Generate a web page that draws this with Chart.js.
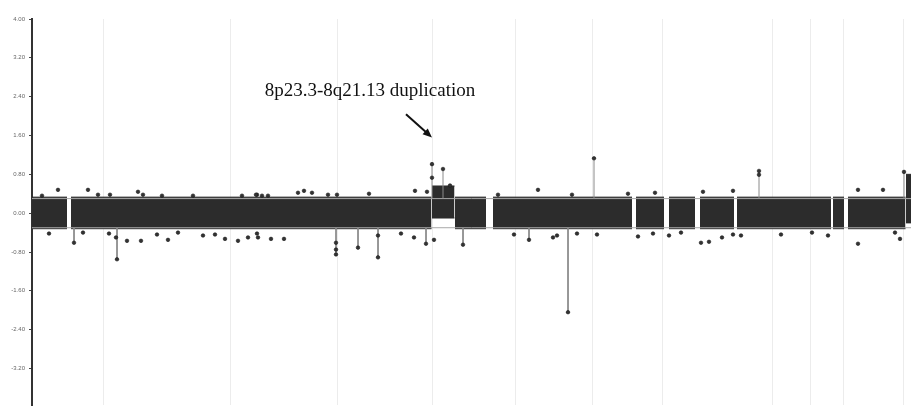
<!DOCTYPE html>
<html lang="en">
<head>
<meta charset="UTF-8">
<title>CNV plot</title>
<script src="https://cdn.jsdelivr.net/npm/chart.js"></script>
<style>
    body { margin: 0; background: white; }
    #wrap { width: 911px; height: 413px; }
</style>
</head>
<body>
<div id="wrap"><canvas id="cnv" width="911" height="413"></canvas></div>
<script>
    // y axis ticks (log2 ratio)
    const yTicks = [4, 3.2, 2.4, 1.6, 0.8, 0, -0.8, -1.6, -2.4, -3.2];
    // faint chromosome grid lines (genome index)
    const gridX = [71, 198, 305, 400, 483, 560, 630, 740, 778, 811, 871];

    // dense probe band per segment
    const segStart = [0, 39, 400, 423, 461, 604, 637, 668, 705, 801, 816, 874];
    const segEnd   = [35, 399.5, 422.5, 454, 600, 632, 663, 702, 799, 812, 873.5, 879];
    const segHigh  = [0.33, 0.33, 0.56, 0.33, 0.33, 0.33, 0.33, 0.33, 0.33, 0.33, 0.33, 0.80];
    const segLow   = [-0.32, -0.32, -0.10, -0.32, -0.32, -0.32, -0.32, -0.32, -0.32, -0.32, -0.32, -0.20];

    // scattered probes outside the dense band
    const outX = [26, 56, 106, 111, 161, 210, 10, 66, 78, 130, 225, 230, 236, 266,
                  17, 84, 95, 109, 136, 171, 193, 206, 216, 51, 77, 125, 146, 183,
                  224, 272, 280, 296, 305, 337, 383, 395, 400, 418, 225, 226, 239, 252, 304, 304, 346, 369, 382, 402,
                  466, 506, 540, 596, 623, 482, 521, 525, 545, 565, 606, 621, 637, 649,
                  671, 701, 727, 826, 851, 669, 677, 690, 701, 709, 749, 780, 796, 826, 863, 868];
    const outY = [0.48, 0.48, 0.44, 0.38, 0.36, 0.36, 0.36, 0.38, 0.38, 0.36, 0.38, 0.36, 0.36, 0.42,
                  -0.42, -0.50, -0.57, -0.57, -0.55, -0.46, -0.53, -0.57, -0.50, -0.40, -0.42, -0.44, -0.40, -0.44,
                  0.38, 0.46, 0.42, 0.38, 0.38, 0.40, 0.46, 0.44, 0.73, 0.57, -0.42, -0.50, -0.53, -0.53, -0.61, -0.75, -0.46, -0.42, -0.50, -0.55,
                  0.38, 0.48, 0.38, 0.40, 0.42, -0.44, -0.50, -0.46, -0.42, -0.44, -0.48, -0.42, -0.46, -0.40,
                  0.44, 0.46, 0.79, 0.48, 0.48, -0.61, -0.59, -0.50, -0.44, -0.46, -0.44, -0.40, -0.46, -0.63, -0.40, -0.53];

    // single probes far from the band, drawn with a stem
    const spikeX = [42, 85, 400, 411, 304, 326, 346, 394, 431, 562, 536, 497, 727, 872];
    const spikeY = [-0.61, -0.95, 1.01, 0.91, -0.85, -0.71, -0.91, -0.63, -0.65, 1.13, -2.04, -0.55, 0.87, 0.85];

    const threshold = 0.3;

    function bandData(values) {
        const pts = [];
        segStart.forEach((s, i) => {
            pts.push({x: s, y: values[i]});
            pts.push({x: segEnd[i], y: values[i]});
            pts.push({x: segEnd[i] + 0.2, y: null});
        });
        return pts;
    }

    const stemData = [];
    spikeX.forEach((x, i) => {
        stemData.push({x: x, y: Math.sign(spikeY[i]) * threshold});
        stemData.push({x: x, y: spikeY[i]});
        stemData.push({x: x, y: null});
    });

    const markers = outX.map((x, i) => ({x: x, y: outY[i]}))
        .concat(spikeX.map((x, i) => ({x: x, y: spikeY[i]})));

    // label + arrow for the duplication
    const labelPlugin = {
        id: 'dupLabel',
        afterDraw(chart) {
            const {ctx, scales: {x, y}} = chart;
            ctx.save();
            ctx.fillStyle = '#111';
            ctx.font = '19px "Liberation Serif", "Times New Roman", serif';
            ctx.textAlign = 'center';
            ctx.textBaseline = 'alphabetic';
            ctx.fillText('8p23.3-8q21.13 duplication', x.getPixelForValue(338), y.getPixelForValue(2.42));

            const x0 = x.getPixelForValue(374), y0 = y.getPixelForValue(2.04);
            const x1 = x.getPixelForValue(400), y1 = y.getPixelForValue(1.56);
            const ang = Math.atan2(y1 - y0, x1 - x0);
            ctx.strokeStyle = '#111';
            ctx.lineWidth = 2;
            ctx.beginPath();
            ctx.moveTo(x0, y0);
            ctx.lineTo(x1 - 6 * Math.cos(ang), y1 - 6 * Math.sin(ang));
            ctx.stroke();
            ctx.beginPath();
            ctx.moveTo(x1, y1);
            ctx.lineTo(x1 - 10 * Math.cos(ang - 0.4), y1 - 10 * Math.sin(ang - 0.4));
            ctx.lineTo(x1 - 10 * Math.cos(ang + 0.4), y1 - 10 * Math.sin(ang + 0.4));
            ctx.closePath();
            ctx.fill();
            ctx.restore();
        }
    };

    new Chart(document.getElementById('cnv'), {
        type: 'line',
        data: {
            datasets: [
                {
                    label: 'probes',
                    data: markers,
                    showLine: false,
                    pointRadius: 1.8,
                    pointBackgroundColor: '#333',
                    pointBorderColor: '#1a1a1a',
                    pointBorderWidth: 0.6,
                    order: 0
                },
                {
                    label: 'stems',
                    data: stemData,
                    borderColor: '#8a8a8a',
                    borderWidth: 1,
                    pointRadius: 0,
                    order: 1
                },
                {
                    label: 'upper',
                    data: [{x: 0, y: threshold}, {x: 879, y: threshold}],
                    borderColor: '#a8a8a8',
                    borderWidth: 1,
                    pointRadius: 0,
                    order: 2
                },
                {
                    label: 'lower',
                    data: [{x: 0, y: -threshold}, {x: 879, y: -threshold}],
                    borderColor: '#a8a8a8',
                    borderWidth: 1,
                    pointRadius: 0,
                    order: 2
                },
                {
                    label: 'bandHigh',
                    data: bandData(segHigh),
                    borderColor: '#2c2c2c',
                    borderWidth: 1,
                    pointRadius: 0,
                    fill: false,
                    order: 4
                },
                {
                    label: 'bandLow',
                    data: bandData(segLow),
                    borderColor: '#2c2c2c',
                    borderWidth: 1,
                    pointRadius: 0,
                    fill: '-1',
                    backgroundColor: '#2c2c2c',
                    order: 3
                }
            ]
        },
        options: {
            responsive: false,
            animation: false,
            spanGaps: false,
            layout: { autoPadding: false, padding: { top: 19, left: 0, right: 0, bottom: 0 } },
            plugins: {
                legend: { display: false },
                tooltip: { enabled: false }
            },
            scales: {
                x: {
                    type: 'linear',
                    min: 0,
                    max: 879,
                    afterBuildTicks: (scale) => { scale.ticks = gridX.map(v => ({value: v})); },
                    ticks: { display: false },
                    grid: { color: '#ececec', drawTicks: false },
                    border: { display: false }
                },
                y: {
                    min: -3.96,
                    max: 4,
                    afterBuildTicks: (scale) => { scale.ticks = yTicks.map(v => ({value: v})); },
                    afterFit: (scale) => { scale.width = 32; },
                    ticks: {
                        color: '#666',
                        font: { family: 'Liberation Sans', size: 6 },
                        padding: 4,
                        callback: (v) => Number(v).toFixed(2)
                    },
                    grid: { drawOnChartArea: false, tickLength: 3, color: '#444' },
                    border: { color: '#333', width: 2 }
                }
            }
        },
        plugins: [labelPlugin]
    });
</script>
</body>
</html>
